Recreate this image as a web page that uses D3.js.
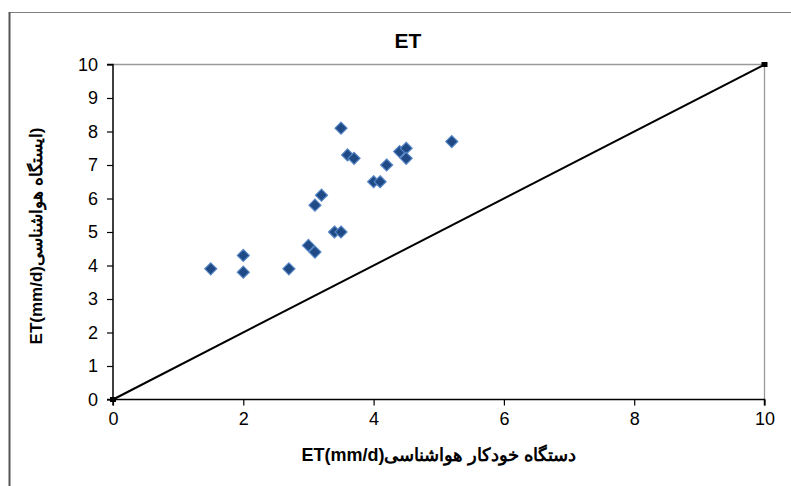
<!DOCTYPE html>
<html><head><meta charset="utf-8">
<script src="https://cdn.jsdelivr.net/npm/d3@7"></script>
<style>html,body{margin:0;padding:0;background:#fff;}svg{display:block;}</style>
</head><body>
<script>
const xValues = [1.5, 2.0, 2.0, 2.7, 3.0, 3.1, 3.4, 3.5, 3.1, 3.2, 3.5, 3.6, 3.7, 4.0, 4.1, 4.2, 4.4, 4.5, 4.5, 5.2];
const yValues = [3.9, 4.3, 3.8, 3.9, 4.6, 4.4, 5.0, 5.0, 5.8, 6.1, 8.1, 7.3, 7.2, 6.5, 6.5, 7.0, 7.4, 7.5, 7.2, 7.7];
const lineX = [0, 10];
const lineY = [0, 10];
const xTicks = [0, 2, 4, 6, 8, 10];
const yTicks = [0, 1, 2, 3, 4, 5, 6, 7, 8, 9, 10];
const titleText = "ET";
const xTitle = "ET(mm/d)دستگاه خودکار هواشناسی";
const yTitle = "ET(mm/d)ایستگاه هواشناسی)";

const W = 791, H = 486;
const svg = d3.select("body").append("svg").attr("width", W).attr("height", H);
svg.append("rect").attr("width", W).attr("height", H).attr("fill", "#fff");

// outer frame
svg.append("line").attr("x1", 9).attr("x2", W).attr("y1", 12.5).attr("y2", 12.5).attr("stroke", "#808080").attr("stroke-width", 1.2);
svg.append("line").attr("x1", 9.5).attr("x2", 9.5).attr("y1", 12).attr("y2", H).attr("stroke", "#555").attr("stroke-width", 2);

const L = 113, R = 764.5, T = 64.5, B = 399.5;
const x = d3.scaleLinear().domain([0, 10]).range([L, R]);
const y = d3.scaleLinear().domain([0, 10]).range([B, T]);

// plot area border (top/right gray)
svg.append("path").attr("d", `M${L},${T}H${R}V${B}`).attr("fill", "none").attr("stroke", "#9a9a9a").attr("stroke-width", 1.3);

const font = "'Liberation Sans', Arial, sans-serif";

const xAxis = svg.append("g").attr("transform", `translate(0,${B})`)
  .call(d3.axisBottom(x).tickValues(xTicks).tickSize(6).tickPadding(7).tickFormat(d3.format("d")));
const yAxis = svg.append("g").attr("transform", `translate(${L},0)`)
  .call(d3.axisLeft(y).tickValues(yTicks).tickSize(6).tickPadding(9).tickFormat(d3.format("d")));
[xAxis, yAxis].forEach(a => {
  a.select(".domain").attr("stroke", "#000").attr("stroke-width", 1.5);
  a.selectAll(".tick line").attr("stroke", "#000").attr("stroke-width", 1.2);
  a.selectAll(".tick text").attr("font-family", font).attr("font-size", 18).attr("fill", "#000");
});
xAxis.select(".domain").attr("d", `M${L},6V0H${R}V6`);
yAxis.select(".domain").attr("d", `M-6,${B}H0V${T}H-6`);

// 1:1 line
const lineData = lineX.map((v, i) => [v, lineY[i]]);
svg.append("path").datum(lineData)
  .attr("d", d3.line().x(d => x(d[0])).y(d => y(d[1])))
  .attr("stroke", "#000").attr("stroke-width", 2).attr("fill", "none");
svg.selectAll(".endpt").data(lineData).enter().append("rect")
  .attr("x", d => x(d[0]) - 3).attr("y", d => y(d[1]) - 2.5)
  .attr("width", 6).attr("height", 5).attr("fill", "#000");

// points
const pts = xValues.map((v, i) => [v, yValues[i]]);
svg.selectAll(".pt").data(pts).enter().append("path")
  .attr("transform", d => `translate(${x(d[0])},${y(d[1])})`)
  .attr("d", "M0,-6L6,0L0,6L-6,0Z")
  .attr("fill", "#1f4a85").attr("stroke", "#5585c4").attr("stroke-width", 1.2);

// titles
svg.append("text").attr("x", 408).attr("y", 48).attr("text-anchor", "middle")
  .attr("font-family", font).attr("font-weight", "bold").attr("font-size", 21).text(titleText);
svg.append("text").attr("x", 439).attr("y", 461).attr("text-anchor", "middle").attr("direction", "ltr")
  .attr("font-family", font).attr("font-weight", "bold").attr("font-size", 18).text(xTitle);
svg.append("text").attr("transform", "translate(42,236) rotate(-90)").attr("text-anchor", "middle").attr("direction", "ltr")
  .attr("font-family", font).attr("font-weight", "bold").attr("font-size", 17).text(yTitle);
</script>
</body></html>
